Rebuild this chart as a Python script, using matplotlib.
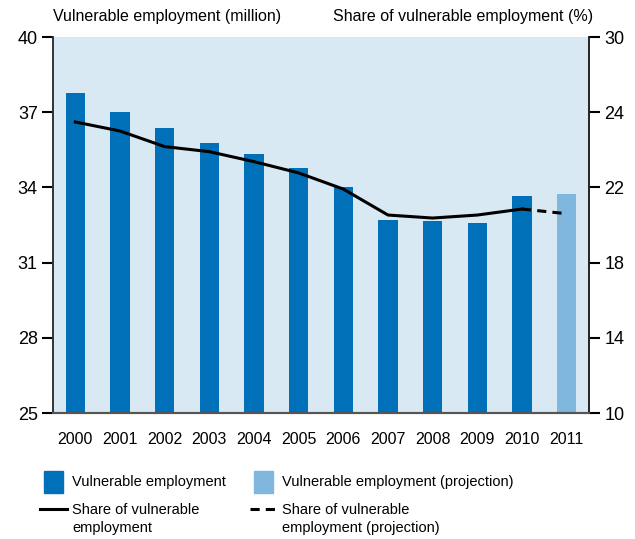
import matplotlib
matplotlib.use("Agg")
import matplotlib.pyplot as plt
from matplotlib.patches import Rectangle
from matplotlib.lines import Line2D

plt.rcParams['font.family'] = ['Liberation Sans Narrow', 'Liberation Sans', 'DejaVu Sans']

years = ['2000', '2001', '2002', '2003', '2004', '2005', '2006', '2007', '2008', '2009', '2010', '2011']
employment = [37.78, 37.01, 36.37, 35.77, 35.33, 34.77, 34.03, 32.70, 32.67, 32.59, 33.66, 33.74]
is_projection = [False] * 11 + [True]
share = [25.48, 25.0, 24.17, 23.90, 23.37, 22.77, 21.91, 20.53, 20.37, 20.53, 20.85, 20.60]
left_ticks = [25, 28, 31, 34, 37, 40]
right_ticks = [10, 14, 18, 22, 26, 30]
right_tick_labels = ['10', '14', '18', '22', '24', '30']

DARK = '#0070b8'
LIGHT = '#80b7de'
BG = '#d9e9f3'

W, H = 635, 539
fig = plt.figure(figsize=(W / 100, H / 100), dpi=100)
ax = fig.add_axes([53 / W, 1 - 413 / H, (589 - 53) / W, (413 - 37) / H])
ax.set_facecolor(BG)

x = list(range(len(years)))
colors = [LIGHT if p else DARK for p in is_projection]
ax.bar(x, employment, width=0.43, color=colors, zorder=2)
ax.set_xlim(-0.5, len(years) - 0.5)
ax.set_ylim(25, 40)
ax.set_yticks(left_ticks)
ax.set_xticks(x)
ax.set_xticklabels(years)
ax.tick_params(axis='x', length=0, pad=14, labelsize=11.5)
ax.tick_params(axis='y', length=8, width=1.5, direction='out', pad=3, labelsize=13)

ax2 = ax.twinx()
ax2.set_ylim(10, 30)
ax2.set_yticks(right_ticks)
ax2.set_yticklabels(right_tick_labels)
ax2.tick_params(axis='y', length=8, width=1.5, direction='out', pad=3, labelsize=13)
n_actual = 11
ax2.plot(x[:n_actual], share[:n_actual], color='black', lw=2.2, zorder=3)
ax2.plot(x[n_actual - 1:], share[n_actual - 1:], color='black', lw=2.2, ls=(0, (3, 2)), zorder=3)

for a in (ax, ax2):
    a.spines['top'].set_visible(False)
    a.spines['left'].set_color('#333333')
    a.spines['right'].set_color('#222222')
    a.spines['left'].set_linewidth(1.2)
    a.spines['right'].set_linewidth(1.2)
    a.spines['bottom'].set_color('#555555')
    a.spines['bottom'].set_linewidth(1.5)

fig.text(53 / W, 1 - 17 / H, 'Vulnerable employment (million)', fontsize=11.5, ha='left', va='center')
fig.text(593 / W, 1 - 17 / H, 'Share of vulnerable employment (%)', fontsize=11.5, ha='right', va='center')

# Legend drawn in figure pixel space
def px(xp, yp):
    return xp / W, 1 - yp / H

items_fs = 10.5
fig.patches.append(Rectangle(px(44, 493), 19 / W, 22 / H, color=DARK, transform=fig.transFigure))
fig.text(*px(72, 482), 'Vulnerable employment', fontsize=items_fs, va='center')
fig.patches.append(Rectangle(px(254, 493), 19 / W, 22 / H, color=LIGHT, transform=fig.transFigure))
fig.text(*px(282, 482), 'Vulnerable employment (projection)', fontsize=items_fs, va='center')

fig.lines.append(Line2D([40 / W, 67 / W], [1 - 509 / H] * 2, color='black', lw=2.2, transform=fig.transFigure))
fig.text(*px(72, 519), 'Share of vulnerable\nemployment', fontsize=items_fs, va='center', linespacing=1.3)
fig.lines.append(Line2D([250 / W, 277 / W], [1 - 509 / H] * 2, color='black', lw=2.2, ls=(0, (3, 2)),
                        transform=fig.transFigure))
fig.text(*px(282, 519), 'Share of vulnerable\nemployment (projection)', fontsize=items_fs, va='center', linespacing=1.3)

fig.savefig('out.png', dpi=100)
